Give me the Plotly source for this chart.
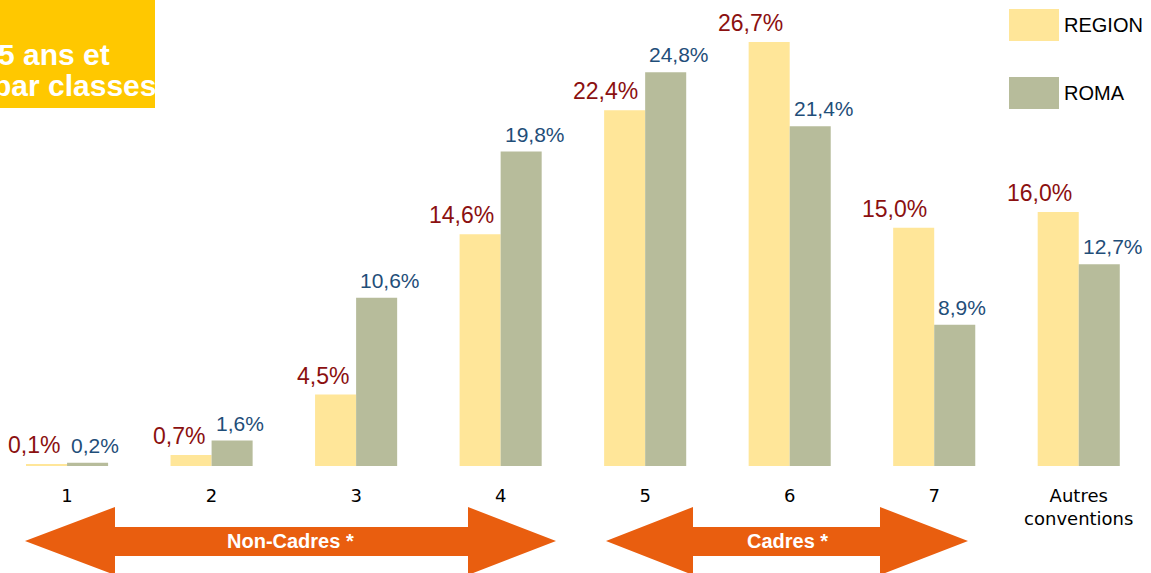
import plotly.graph_objects as go

categories = ["1", "2", "3", "4", "5", "6", "7", "Autres<br>conventions"]
region = [0.1, 0.7, 4.5, 14.6, 22.4, 26.7, 15.0, 16.0]
roma = [0.2, 1.6, 10.6, 19.8, 24.8, 21.4, 8.9, 12.7]
region_labels = ["0,1%", "0,7%", "4,5%", "14,6%", "22,4%", "26,7%", "15,0%", "16,0%"]
roma_labels = ["0,2%", "1,6%", "10,6%", "19,8%", "24,8%", "21,4%", "8,9%", "12,7%"]

W, H = 1151, 573
PB = 466  # plot bottom in pixels


def px(x):
    return x / W


def py(y):
    return (PB - y) / PB


C_REGION = "#FFE699"
C_ROMA = "#B7BC9B"
C_REG_TXT = "#8B1010"
C_ROMA_TXT = "#1F4E79"
C_ORANGE = "#E95E0F"
FONT = "Liberation Sans"

fig = go.Figure()
fig.add_trace(go.Bar(x=categories, y=region, name="REGION", marker_color=C_REGION,
                     marker_line_width=0, showlegend=False))
fig.add_trace(go.Bar(x=categories, y=roma, name="ROMA", marker_color=C_ROMA,
                     marker_line_width=0, showlegend=False))

annotations = []
for i, (v, t) in enumerate(zip(region, region_labels)):
    annotations.append(dict(x=i, y=v, xref="x", yref="y", text=t, showarrow=False,
                            xanchor="right", yanchor="bottom", xshift=-5, yshift=4,
                            font=dict(family=FONT, size=23, color=C_REG_TXT)))
for i, (v, t) in enumerate(zip(roma, roma_labels)):
    annotations.append(dict(x=i, y=v, xref="x", yref="y", text=t, showarrow=False,
                            xanchor="left", yanchor="bottom", xshift=2, yshift=4,
                            font=dict(family=FONT, size=21, color=C_ROMA_TXT)))

shapes = []
# title box
shapes.append(dict(type="rect", xref="paper", yref="paper", x0=px(0), x1=px(155),
                   y0=py(108), y1=py(0), fillcolor="#FFC800", line_width=0, layer="below"))
annotations.append(dict(x=px(112), y=py(54), xref="paper", yref="paper", text="<b>5 ans et</b>",
                        showarrow=False, xanchor="right", yanchor="middle",
                        font=dict(family=FONT, size=30, color="white")))
annotations.append(dict(x=px(158), y=py(85), xref="paper", yref="paper", text="<b>par classes</b>",
                        showarrow=False, xanchor="right", yanchor="middle",
                        font=dict(family=FONT, size=30, color="white")))

# legend
for name, col, ytop in [("REGION", C_REGION, 9), ("ROMA", C_ROMA, 77)]:
    shapes.append(dict(type="rect", xref="paper", yref="paper", x0=px(1009), x1=px(1059),
                       y0=py(ytop + 32), y1=py(ytop), fillcolor=col, line_width=0))
    annotations.append(dict(x=px(1062), y=py(ytop + 16), xref="paper", yref="paper", text=name,
                            showarrow=False, xanchor="left", yanchor="middle",
                            font=dict(family=FONT, size=20, color="black")))


def arrow(tl, bl, br, tr, label, cx):
    ym, ht, hb, st, sb = 541, 507, 575, 527, 556
    pts = [(tl, ym), (bl, ht), (bl, st), (br, st), (br, ht), (tr, ym), (br, hb),
           (br, sb), (bl, sb), (bl, hb)]
    path = "M " + " L ".join(f"{px(x):.5f},{py(y):.5f}" for x, y in pts) + " Z"
    shapes.append(dict(type="path", xref="paper", yref="paper", path=path,
                       fillcolor=C_ORANGE, line_width=0))
    annotations.append(dict(x=px(cx), y=py(ym), xref="paper", yref="paper",
                            text=f"<b>{label}</b>", showarrow=False, xanchor="center",
                            yanchor="middle", font=dict(family=FONT, size=20, color="white")))


arrow(25, 115, 468, 556, "Non-Cadres *", 290)
arrow(606, 693, 880, 968, "Cadres *", 787)

fig.update_layout(
    width=W, height=H,
    margin=dict(l=0, r=0, t=0, b=H - PB, pad=0),
    paper_bgcolor="white", plot_bgcolor="white",
    barmode="group", bargap=0.432, bargroupgap=0,
    shapes=shapes, annotations=annotations,
    xaxis=dict(type="category", range=[-0.464, 7.5], showgrid=False, showline=False,
               zeroline=False, ticks="outside", ticklen=13, tickcolor="rgba(0,0,0,0)",
               tickfont=dict(family="DejaVu Sans", size=18, color="black")),
    yaxis=dict(range=[0, PB / 15.88], visible=False, fixedrange=True),
)

fig.write_html("out.html", config={"displayModeBar": False},
               post_script="document.body.style.margin='0';document.body.style.overflow='hidden';")
